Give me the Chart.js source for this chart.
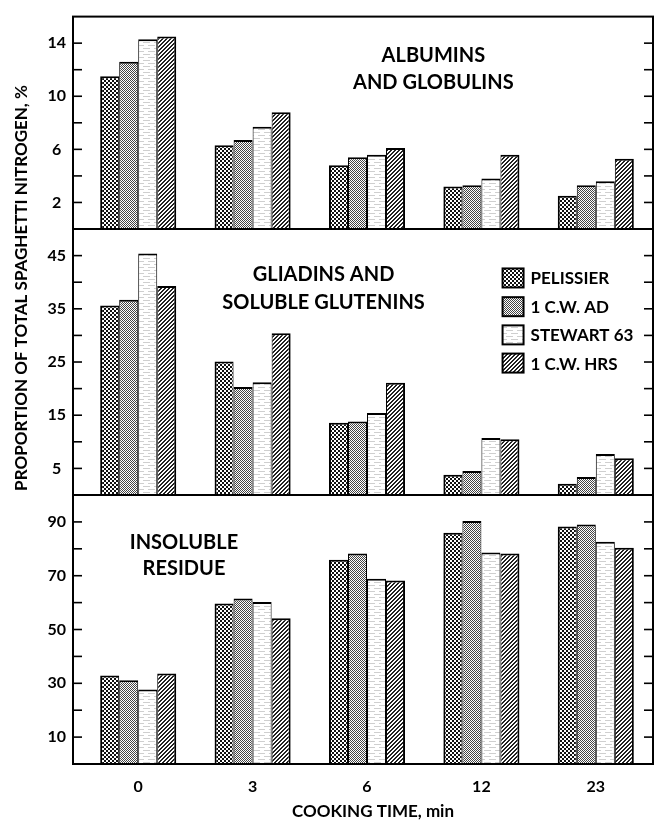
<!DOCTYPE html>
<html><head><meta charset="utf-8">
<script src="https://cdn.jsdelivr.net/npm/chart.js@4"></script>
<style>html,body{margin:0;padding:0;background:#fff;}#wrap{width:664px;height:823px;position:relative;}</style>
</head><body><div id="wrap"><canvas id="c"></canvas></div>
<script>
// ---- data ----
const cookingTimes = ['0', '3', '6', '12', '23'];
const varieties = ['PELISSIER', '1 C.W. AD', 'STEWART 63', '1 C.W. HRS'];

// Albumins and globulins (% of total spaghetti N)
const albPelissier = [11.5, 6.3, 4.8, 3.2, 2.5];
const albCWAD      = [12.6, 6.7, 5.4, 3.3, 3.3];
const albStewart   = [14.3, 7.7, 5.6, 3.8, 3.6];
const albHRS       = [14.5, 8.8, 6.1, 5.6, 5.3];

// Gliadins and soluble glutenins
const gliPelissier = [35.6, 25.1, 13.6, 3.8, 2.1];
const gliCWAD      = [36.7, 20.3, 13.8, 4.5, 3.4];
const gliStewart   = [45.4, 21.2, 15.4, 10.7, 7.7];
const gliHRS       = [39.3, 30.4, 21.1, 10.5, 6.9];

// Insoluble residue
const insPelissier = [32.9, 59.7, 75.9, 86.0, 88.3];
const insCWAD      = [31.1, 61.5, 78.3, 90.3, 89.0];
const insStewart   = [27.7, 60.2, 68.9, 78.6, 82.6];
const insHRS       = [33.6, 54.2, 68.2, 78.3, 80.4];

const panelTitles = [['ALBUMINS', 'AND GLOBULINS'], ['GLIADINS AND', 'SOLUBLE GLUTENINS'], ['INSOLUBLE', 'RESIDUE']];
const yTickLabels1 = [2, 6, 10, 14];
const yTickLabels2 = [5, 15, 25, 35, 45];
const yTickLabels3 = [10, 30, 50, 70, 90];
const yTitle = 'PROPORTION OF TOTAL SPAGHETTI NITROGEN, %';
const xTitle = 'COOKING TIME, min';

// ---- patterns ----
function makePattern(w, h, draw) {
  const c = document.createElement('canvas');
  c.width = w; c.height = h;
  const g = c.getContext('2d');
  g.fillStyle = '#fff'; g.fillRect(0, 0, w, h);
  draw(g);
  return g.createPattern(c, 'repeat');
}
const patterns = [
  makePattern(4, 4, g => { g.fillStyle = '#111'; for (let y = 0; y < 4; y++) for (let x = 0; x < 4; x++) if ((Math.floor(x / 2) + Math.floor(y / 2)) % 2 === 0) g.fillRect(x, y, 1, 1); }),
  makePattern(2, 2, g => { g.fillStyle = '#444'; g.fillRect(0, 0, 1, 1); g.fillRect(1, 1, 1, 1); }),
  makePattern(11, 6, g => { g.fillStyle = '#cfcfcf'; g.fillRect(0, 0, 7, 1); g.fillRect(5, 3, 6, 1); g.fillRect(0, 3, 1, 1); }),
  makePattern(4, 4, g => { g.fillStyle = '#222'; for (let y = 0; y < 4; y++) for (let x = 0; x < 4; x++) if ((x + y) % 4 < 2) g.fillRect(x, y, 1, 1); })
];

const FONT = 'Lato, "DejaVu Sans", sans-serif';
Chart.defaults.font.family = FONT;
Chart.defaults.font.weight = 'bold';
Chart.defaults.color = '#000';

const panels = [
  [albPelissier, albCWAD, albStewart, albHRS],
  [gliPelissier, gliCWAD, gliStewart, gliHRS],
  [insPelissier, insCWAD, insStewart, insHRS]
];
const datasets = [];
panels.forEach((series, p) => {
  series.forEach((vals, s) => {
    datasets.push({
      label: varieties[s],
      data: vals.map((v, i) => ({x: i, y: v})),
      yAxisID: 'y' + (p + 1),
      stack: 's' + s,
      backgroundColor: patterns[s],
      borderColor: '#000',
      borderWidth: {left: s === 0 ? 2 : 1, right: s === 3 ? 2 : 1, top: 2, bottom: 0},
      borderSkipped: false,
      categoryPercentage: 0.665,
      barPercentage: 1.0
    });
  });
});

function yAxis(max, step, labels, weight) {
  return {
    type: 'linear', position: 'left', stack: 'panels', stackWeight: weight,
    min: 0, max: max, stacked: false,
    ticks: {stepSize: step, autoSkip: false, crossAlign: 'center', padding: 7,
      font: {size: 16, weight: 'bold'}, color: '#000',
      callback: v => labels.includes(v) ? String(v) : ''},
    grid: {display: false, drawTicks: false},
    border: {display: false},
    afterFit: s => { s.width = 73; }
  };
}

const decor = {
  id: 'decor',
  afterDatasetsDraw(chart) {
    const ctx = chart.ctx, a = chart.chartArea;
    const xs = chart.scales.x;
    const ys = [chart.scales.y1, chart.scales.y2, chart.scales.y3];
    const line = (x1, y1, x2, y2) => { ctx.beginPath(); ctx.moveTo(x1, y1); ctx.lineTo(x2, y2); ctx.stroke(); };
    ctx.save();
    ctx.strokeStyle = '#000';
    ctx.lineWidth = 2;
    ctx.strokeRect(a.left, a.top, a.right - a.left, a.bottom - a.top);
    ys.forEach(s => line(a.left, s.bottom, a.right, s.bottom));
    ctx.lineWidth = 1.6;
    ys.forEach(s => s.ticks.forEach(t => {
      if (t.value <= s.min || t.value >= s.max) return;
      const y = s.getPixelForValue(t.value);
      line(a.left, y, a.left + 9, y);
      line(a.right - 9, y, a.right, y);
    }));
    // panel titles
    const titleAnchors = [[2.58, 13.05, 11.0], [1.62, 41.4, 36.1], [0.40, 82.3, 72.7]];
    ctx.fillStyle = '#000';
    ctx.textAlign = 'center';
    ctx.textBaseline = 'middle';
    ctx.font = 'bold 20px ' + FONT;
    panelTitles.forEach((lines, p) => {
      const [xv, y1v, y2v] = titleAnchors[p];
      const x = xs.getPixelForValue(xv);
      ctx.fillText(lines[0], x, ys[p].getPixelForValue(y1v));
      ctx.fillText(lines[1], x, ys[p].getPixelForValue(y2v));
    });
    // legend in panel 2
    const legRows = [40.8, 35.4, 30.1, 24.8];
    const bx = xs.getPixelForValue(3.185);
    ctx.font = 'bold 17px ' + FONT;
    ctx.textAlign = 'left';
    varieties.forEach((name, i) => {
      const cy = ys[1].getPixelForValue(legRows[i]);
      ctx.fillStyle = patterns[i];
      ctx.fillRect(bx, cy - 9.5, 21, 19);
      ctx.lineWidth = 2;
      ctx.strokeRect(bx, cy - 9.5, 21, 19);
      ctx.fillStyle = '#000';
      ctx.fillText(name, bx + 28, cy + 1);
    });
    // axis titles
    ctx.font = 'bold 17px ' + FONT;
    ctx.textAlign = 'center';
    ctx.fillText(xTitle, 373, 812);
    ctx.save();
    ctx.translate(22, 288);
    ctx.rotate(-Math.PI / 2);
    ctx.fillText(yTitle, 0, 0);
    ctx.restore();
    ctx.restore();
  }
};

new Chart(document.getElementById('c'), {
  type: 'bar',
  data: {datasets},
  options: {
    responsive: true, maintainAspectRatio: false, animation: false,
    layout: {padding: {top: 11, right: 11, bottom: 0, left: 0}},
    plugins: {legend: {display: false}, tooltip: {enabled: false}},
    scales: {
      x: {
        type: 'linear', min: -0.57, max: 4.5, offset: false,
        ticks: {stepSize: 1, includeBounds: false, autoSkip: false, padding: 13,
          font: {size: 16, weight: 'bold'}, color: '#000',
          callback: v => cookingTimes[v] !== undefined ? cookingTimes[v] : ''},
        grid: {display: false, drawTicks: false, offset: false},
        border: {display: false},
        afterFit: s => { s.height = 59; }
      },
      y3: yAxis(100, 10, yTickLabels3, 271),
      y2: yAxis(50, 5, yTickLabels2, 268),
      y1: yAxis(16, 2, yTickLabels1, 214)
    }
  },
  plugins: [decor]
});
</script>
</body></html>
